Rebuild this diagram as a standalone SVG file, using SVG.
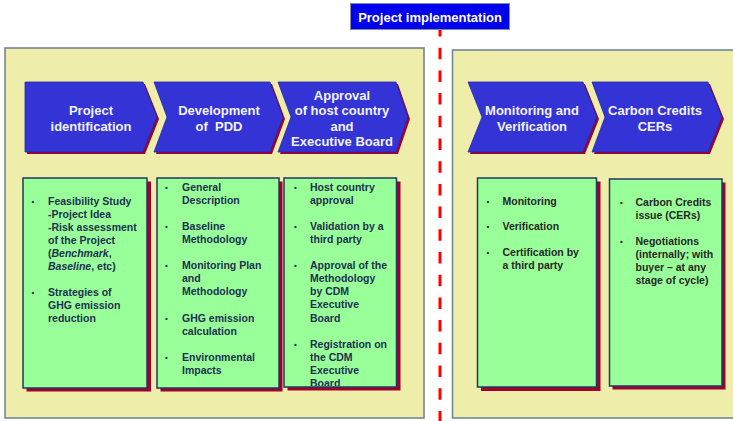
<svg xmlns="http://www.w3.org/2000/svg" width="733" height="421" viewBox="0 0 733 421">
  <defs>
    <style>
      .panel { fill: #EEEEAA; stroke: #6B7F95; stroke-width: 1.5; }
      .chev { fill: #3434D6; stroke: #2626A8; stroke-width: 0.8; }
      .chev-sh { fill: #A0002A; }
      .chev-t { font-family: "Liberation Sans", Arial, sans-serif; font-size: 13px; font-weight: bold; fill: #F2F2FF; text-anchor: middle; }
      .card { fill: #99FF99; stroke: #1F3864; stroke-width: 1.5; }
      .card-sh { fill: #A0002A; }
      .card-t { font-family: "Liberation Sans", Arial, sans-serif; font-size: 10.5px; font-weight: bold; fill: #203050; }
      .card-t2 { font-family: "Liberation Sans", Arial, sans-serif; font-size: 10.5px; font-weight: bold; fill: #262626; }
      .bullet { font-size: 8px; }
      .phase { fill: #0000EE; stroke: #8090A0; stroke-width: 1; }
      .phase-t { font-family: "Liberation Sans", Arial, sans-serif; font-size: 13px; font-weight: bold; fill: #FFFFFF; text-anchor: middle; }
      .divider { stroke: #FF0000; stroke-width: 3; stroke-dasharray: 11.5 11.2; fill: none; }
    </style>
    <clipPath id="card3-clip">
      <rect x="284" y="178" width="112.5" height="208"/>
    </clipPath>
  </defs>

  <rect width="733" height="421" fill="#FFFFFF"/>

  <!-- background panels: before / after implementation -->
  <g id="panel-left">
    <rect class="panel" x="5" y="48" width="419" height="370"/>
  </g>
  <g id="panel-right">
    <rect class="panel" x="452.5" y="50" width="295" height="368"/>
  </g>

  <!-- implementation divider -->
  <g id="connectors">
    <line class="divider" x1="440" y1="25" x2="440" y2="421"/>
  </g>

  <g id="phase-label">
    <rect class="phase" x="350.5" y="3.5" width="159" height="26"/>
    <text class="phase-t" x="430" y="22">Project implementation</text>
  </g>

  <!-- process chevrons -->
  <g id="step-identification">
    <polygon class="chev-sh" points="27,84 145,84 159,119 145,154 27,154"/>
    <polygon class="chev" points="25,82 143,82 157,117 143,152 25,152"/>
    <text class="chev-t" x="91" y="115">Project</text>
    <text class="chev-t" x="91" y="130.5">identification</text>
  </g>
  <g id="step-pdd">
    <polygon class="chev-sh" points="156,84 272,84 285,119 272,154 156,154 169,119"/>
    <polygon class="chev" points="154,82 270,82 283,117 270,152 154,152 167,117"/>
    <text class="chev-t" x="219" y="115">Development</text>
    <text class="chev-t" x="219" y="130.5" style="white-space:pre">of  PDD</text>
  </g>
  <g id="step-approval">
    <polygon class="chev-sh" points="280,84 398,84 410,119 398,154 280,154 293,119"/>
    <polygon class="chev" points="278,82 396,82 408,117 396,152 278,152 291,117"/>
    <text class="chev-t" x="342" y="99.5">Approval</text>
    <text class="chev-t" x="342" y="115">of host country</text>
    <text class="chev-t" x="342" y="130.5">and</text>
    <text class="chev-t" x="342" y="146">Executive Board</text>
  </g>
  <g id="step-monitoring">
    <polygon class="chev-sh" points="470,84 585,84 599,119 585,154 470,154 484,119"/>
    <polygon class="chev" points="468,82 583,82 597,117 583,152 468,152 482,117"/>
    <text class="chev-t" x="532" y="115">Monitoring and</text>
    <text class="chev-t" x="532" y="130.5">Verification</text>
  </g>
  <g id="step-credits">
    <polygon class="chev-sh" points="594,84 710,84 724,119 710,154 594,154 607,119"/>
    <polygon class="chev" points="592,82 708,82 722,117 708,152 592,152 605,117"/>
    <text class="chev-t" x="655" y="115">Carbon Credits</text>
    <text class="chev-t" x="655" y="130.5">CERs</text>
  </g>

  <!-- detail cards -->
  <g id="card-identification">
    <rect class="card-sh" x="26.5" y="181.5" width="124.5" height="210"/>
    <rect class="card" x="23" y="178" width="124" height="210"/>
    <text class="card-t bullet">
      <tspan x="31.5" y="203.5">•</tspan>
      <tspan x="31.5" y="295.2">•</tspan>
    </text>
    <text class="card-t">
      <tspan x="48" y="204.5">Feasibility Study</tspan>
      <tspan x="48" y="217.6">-Project Idea</tspan>
      <tspan x="48" y="230.7">-Risk assessment</tspan>
      <tspan x="48" y="243.8">of the Project</tspan>
      <tspan x="48" y="256.9">(<tspan font-style="italic">Benchmark</tspan>,</tspan>
      <tspan x="48" y="270"><tspan font-style="italic">Baseline</tspan>, etc)</tspan>
      <tspan x="48" y="296.2">Strategies of</tspan>
      <tspan x="48" y="309.3">GHG emission</tspan>
      <tspan x="48" y="322.4">reduction</tspan>
    </text>
  </g>

  <g id="card-pdd">
    <rect class="card-sh" x="160.5" y="181.5" width="122" height="210"/>
    <rect class="card" x="157" y="178" width="122" height="210"/>
    <text class="card-t bullet">
      <tspan x="165" y="189.5">•</tspan>
      <tspan x="165" y="228.8">•</tspan>
      <tspan x="165" y="268.1">•</tspan>
      <tspan x="165" y="320.5">•</tspan>
      <tspan x="165" y="359.8">•</tspan>
    </text>
    <text class="card-t">
      <tspan x="182" y="190.5">General</tspan>
      <tspan x="182" y="203.6">Description</tspan>
      <tspan x="182" y="229.8">Baseline</tspan>
      <tspan x="182" y="242.9">Methodology</tspan>
      <tspan x="182" y="269.1">Monitoring Plan</tspan>
      <tspan x="182" y="282.2">and</tspan>
      <tspan x="182" y="295.3">Methodology</tspan>
      <tspan x="182" y="321.5">GHG emission</tspan>
      <tspan x="182" y="334.6">calculation</tspan>
      <tspan x="182" y="360.8">Environmental</tspan>
      <tspan x="182" y="373.9">Impacts</tspan>
    </text>
  </g>

  <g id="card-approval">
    <rect class="card-sh" x="287.5" y="181.5" width="113" height="209"/>
    <rect class="card" x="284" y="178" width="112.5" height="209"/>
    <text class="card-t bullet">
      <tspan x="294" y="189.5">•</tspan>
      <tspan x="294" y="228.8">•</tspan>
      <tspan x="294" y="268.1">•</tspan>
      <tspan x="294" y="346.7">•</tspan>
    </text>
    <text class="card-t" clip-path="url(#card3-clip)">
      <tspan x="310" y="190.5">Host country</tspan>
      <tspan x="310" y="203.6">approval</tspan>
      <tspan x="310" y="229.8">Validation by a</tspan>
      <tspan x="310" y="242.9">third party</tspan>
      <tspan x="310" y="269.1">Approval of the</tspan>
      <tspan x="310" y="282.2">Methodology</tspan>
      <tspan x="310" y="295.3">by CDM</tspan>
      <tspan x="310" y="308.4">Executive</tspan>
      <tspan x="310" y="321.5">Board</tspan>
      <tspan x="310" y="347.7">Registration on</tspan>
      <tspan x="310" y="360.8">the CDM</tspan>
      <tspan x="310" y="373.9">Executive</tspan>
      <tspan x="310" y="387">Board</tspan>
    </text>
  </g>

  <g id="card-monitoring">
    <rect class="card-sh" x="481" y="181.5" width="119.5" height="209.5"/>
    <rect class="card" x="477.5" y="178" width="119" height="209"/>
    <text class="card-t2 bullet">
      <tspan x="486.5" y="203.5">•</tspan>
      <tspan x="486.5" y="229">•</tspan>
      <tspan x="486.5" y="255.2">•</tspan>
    </text>
    <text class="card-t2">
      <tspan x="502.5" y="204.5">Monitoring</tspan>
      <tspan x="502.5" y="230">Verification</tspan>
      <tspan x="502.5" y="256.2">Certification by</tspan>
      <tspan x="502.5" y="269.3">a third party</tspan>
    </text>
  </g>

  <g id="card-credits">
    <rect class="card-sh" x="612.5" y="182.5" width="113" height="207"/>
    <rect class="card" x="609.5" y="179" width="112.5" height="207"/>
    <text class="card-t2 bullet">
      <tspan x="620" y="204.5">•</tspan>
      <tspan x="620" y="243.8">•</tspan>
    </text>
    <text class="card-t2">
      <tspan x="635.5" y="205.5">Carbon Credits</tspan>
      <tspan x="635.5" y="218.6">issue (CERs)</tspan>
      <tspan x="635.5" y="244.8">Negotiations</tspan>
      <tspan x="635.5" y="257.9">(internally; with</tspan>
      <tspan x="635.5" y="271">buyer – at any</tspan>
      <tspan x="635.5" y="284.1">stage of cycle)</tspan>
    </text>
  </g>
</svg>
